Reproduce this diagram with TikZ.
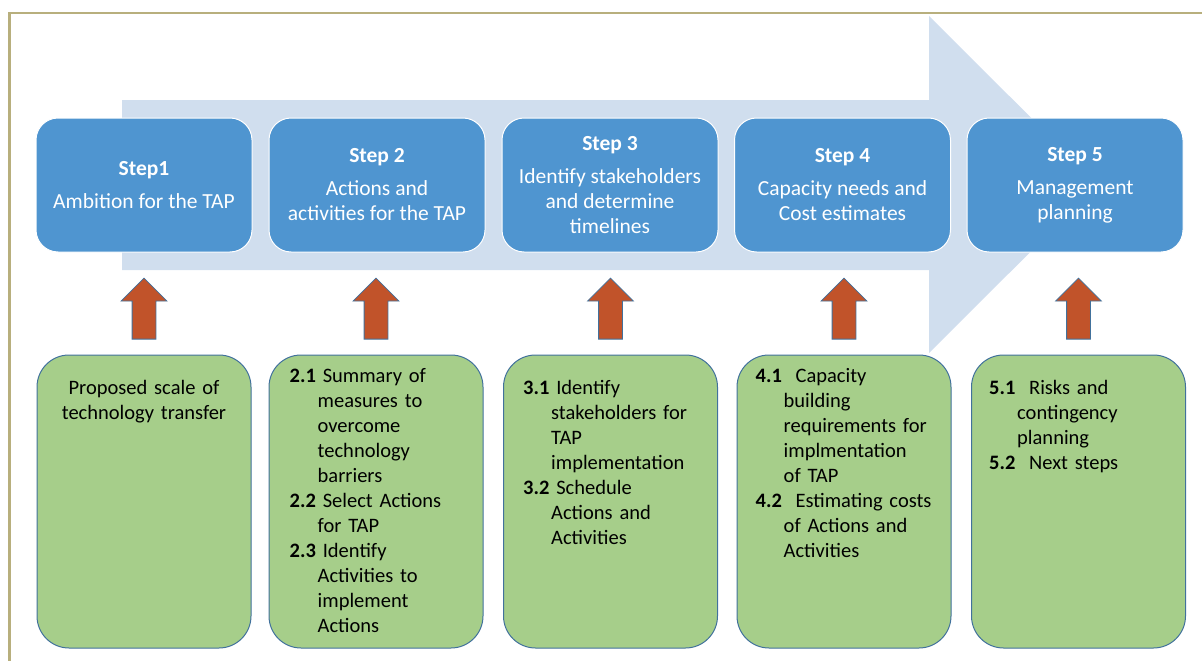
\documentclass[tikz,border=0pt]{standalone}
\usepackage{fontspec}
\setmainfont{Carlito}
\usepackage{xcolor}
\usetikzlibrary{shapes.arrows}

\definecolor{frameline}{RGB}{184,175,125}
\definecolor{bandblue}{RGB}{208,222,238}
\definecolor{stepblue}{RGB}{79,149,208}
\definecolor{subgreen}{RGB}{166,206,138}
\definecolor{edgeblue}{RGB}{65,113,156}
\definecolor{pushorange}{RGB}{193,83,42}

\newcommand{\substep}[2]{\hangindent=28pt\hangafter=1\strut\textbf{#1} #2\par}

\tikzset{
  stepbox/.style={rectangle, rounded corners=22pt, fill=stepblue, draw=white, line width=1pt,
    minimum width=216pt, minimum height=134pt, inner sep=0pt, text=white, align=center,
    font=\fontsize{21.5}{25}\selectfont},
  subbox/.style={rectangle, rounded corners=32pt, fill=subgreen, draw=edgeblue, line width=1pt,
    minimum width=214pt, minimum height=293pt, inner sep=0pt},
  subtext/.style={anchor=north west, inner sep=0pt, text width=190pt, align=left,
    font=\fontsize{20.5}{25}\selectfont},
  pusharrow/.style={single arrow, fill=pushorange, draw=edgeblue, line width=0.8pt, rotate=90,
    minimum height=61pt, inner xsep=0pt, inner ysep=11.5pt, single arrow head extend=11pt,
    single arrow head indent=0pt, anchor=tail}
}

\begin{document}
\begin{tikzpicture}[x=1pt, y=-1pt]
\useasboundingbox (0,0) rectangle (1202,661);
\draw[frameline, line width=2.5pt] (1202,13) -- (9.5,13) -- (9.5,661);
\fill[bandblue] (122,100) -- (929,100) -- (929,16) -- (1098,184.5) -- (929,353) -- (929,270) -- (122,270) -- cycle;

\node[stepbox] (s1) at (144,185) {\textbf{Step1}\\[8pt]Ambition for the TAP};
\node[stepbox] (s2) at (377,185) {\textbf{Step 2}\\[8pt]Actions and\\activities for the TAP};
\node[stepbox] (s3) at (610,185) {\textbf{Step 3}\\[8pt]Identify stakeholders\\and determine\\timelines};
\node[stepbox] (s4) at (842.5,185) {\textbf{Step 4}\\[8pt]Capacity needs and\\Cost estimates};
\node[stepbox] (s5) at (1075,185) {\textbf{Step 5}\\[8pt]Management\\planning};

\node[subbox] (g1) at (144,501.5) {};
\node[subbox] (g2) at (376,501.5) {};
\node[subbox] (g3) at (610.5,501.5) {};
\node[subbox] (g4) at (844,501.5) {};
\node[subbox] (g5) at (1078.5,501.5) {};

\node[pusharrow] (a1) at ([yshift=15pt]g1.north) {};
\node[pusharrow] (a2) at ([yshift=15pt]g2.north) {};
\node[pusharrow] (a3) at ([yshift=15pt]g3.north) {};
\node[pusharrow] (a4) at ([yshift=15pt]g4.north) {};
\node[pusharrow] (a5) at ([yshift=15pt]g5.north) {};

\node[subtext, anchor=north, align=center] (t1) at ([yshift=-22pt]g1.north) {\strut Proposed scale of\\technology transfer};
\node[subtext] (t2) at ([xshift=21pt, yshift=-10pt]g2.north west) {%
  \substep{2.1}{Summary of\newline measures to\newline overcome\newline technology\newline barriers}%
  \substep{2.2}{Select Actions\newline for TAP}%
  \substep{2.3}{Identify\newline Activities to\newline implement\newline Actions}};
\node[subtext] (t3) at ([xshift=20pt, yshift=-22pt]g3.north west) {%
  \substep{3.1}{Identify\newline stakeholders for\newline TAP\newline implementation}%
  \substep{3.2}{Schedule\newline Actions and\newline Activities}};
\node[subtext] (t4) at ([xshift=19pt, yshift=-10pt]g4.north west) {%
  \substep{4.1}{\ Capacity\newline building\newline requirements for\newline implmentation\newline of TAP}%
  \substep{4.2}{\ Estimating costs\newline of Actions and\newline Activities}};
\node[subtext] (t5) at ([xshift=18pt, yshift=-22pt]g5.north west) {%
  \substep{5.1}{\ Risks and\newline contingency\newline planning}%
  \substep{5.2}{\ Next steps}};
\end{tikzpicture}
\end{document}
